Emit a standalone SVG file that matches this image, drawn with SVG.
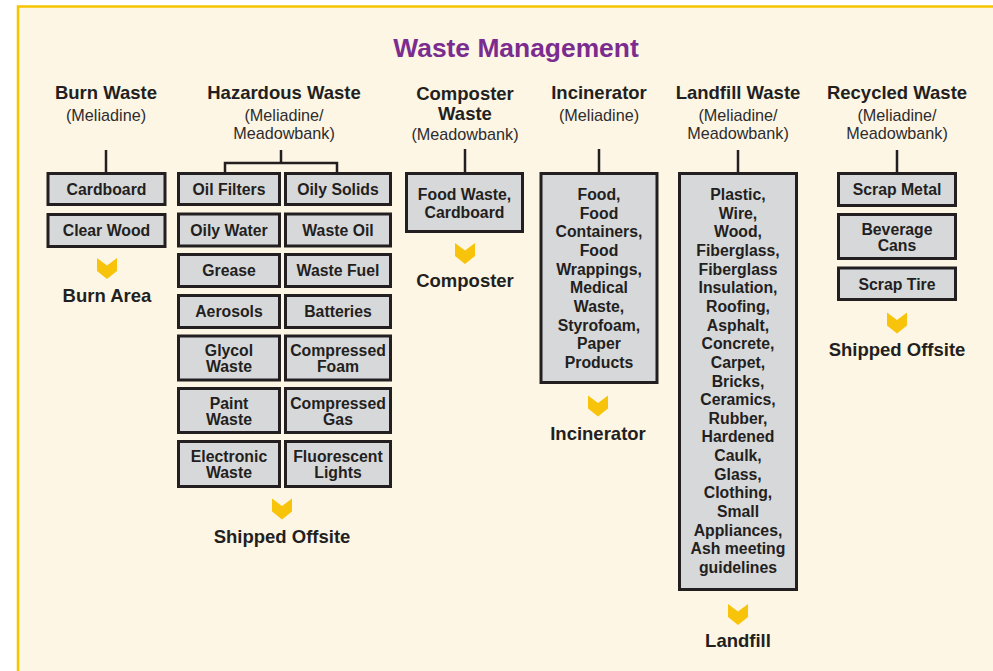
<svg xmlns="http://www.w3.org/2000/svg" width="993" height="671" viewBox="0 0 993 671">
<style>
text{font-family:"Liberation Sans",Arial,sans-serif;text-anchor:middle;fill:#231F20}
.t{font-size:26.4px;font-weight:bold;fill:#7B2C8F}
.h{font-size:18.5px;font-weight:bold}
.s{font-size:16.2px;fill:#2E2C2D}
.b{font-size:15.8px;font-weight:bold}
.box{fill:#D7D8DA;stroke:#231F20;stroke-width:3}
.ln{fill:none;stroke:#231F20;stroke-width:2.5}
.chev{fill:#F8C40B}
</style>
<defs>
<path id="chev" d="M-10,0 L0,7.5 L10,0 L10,13 L0,21 L-10,13 Z"/>
</defs>
<rect x="0" y="0" width="993" height="671" fill="#FFFFFF"/>
<rect x="18" y="6.5" width="1000" height="700" fill="#FDF6E5" stroke="#F7C500" stroke-width="2.5"/>
<text class="t" x="516" y="57">Waste Management</text>

<g id="connectors">
<line class="ln" x1="106" y1="150" x2="106" y2="173"/>
<line class="ln" x1="281" y1="150" x2="281" y2="163"/>
<polyline class="ln" points="225,173 225,163 337,163 337,173"/>
<line class="ln" x1="465" y1="149" x2="465" y2="173"/>
<line class="ln" x1="599" y1="149" x2="599" y2="173"/>
<line class="ln" x1="738" y1="150" x2="738" y2="173"/>
<line class="ln" x1="897" y1="150" x2="897" y2="173"/>
</g>

<g id="burn">
<text class="h" x="106" y="99">Burn Waste</text>
<text class="s" x="106" y="121">(Meliadine)</text>
<rect class="box" x="48" y="173.5" width="117" height="31"/>
<text class="b" x="106.5" y="194.5">Cardboard</text>
<rect class="box" x="48" y="214.5" width="117" height="32"/>
<text class="b" x="106.5" y="236">Clear Wood</text>
<use href="#chev" class="chev" x="107" y="258"/>
<text class="h" x="107" y="301.5">Burn Area</text>
</g>

<g id="hazardous">
<text class="h" x="284" y="99">Hazardous Waste</text>
<text class="s" x="284" y="121">(Meliadine/</text>
<text class="s" x="284" y="139">Meadowbank)</text>
<rect class="box" x="178.5" y="173.5" width="101" height="31"/>
<text class="b" x="229" y="194.5">Oil Filters</text>
<rect class="box" x="285.5" y="173.5" width="105" height="31"/>
<text class="b" x="338" y="194.5">Oily Solids</text>
<rect class="box" x="178.5" y="214" width="101" height="32"/>
<text class="b" x="229" y="235.5">Oily Water</text>
<rect class="box" x="285.5" y="214" width="105" height="32"/>
<text class="b" x="338" y="235.5">Waste Oil</text>
<rect class="box" x="178.5" y="254.5" width="101" height="32"/>
<text class="b" x="229" y="276">Grease</text>
<rect class="box" x="285.5" y="254.5" width="105" height="32"/>
<text class="b" x="338" y="276">Waste Fuel</text>
<rect class="box" x="178.5" y="295.5" width="101" height="32"/>
<text class="b" x="229" y="317">Aerosols</text>
<rect class="box" x="285.5" y="295.5" width="105" height="32"/>
<text class="b" x="338" y="317">Batteries</text>
<rect class="box" x="178.5" y="336" width="101" height="44"/>
<text class="b" x="229" y="356">Glycol</text>
<text class="b" x="229" y="372">Waste</text>
<rect class="box" x="285.5" y="336" width="105" height="44"/>
<text class="b" x="338" y="356">Compressed</text>
<text class="b" x="338" y="372">Foam</text>
<rect class="box" x="178.5" y="388.5" width="101" height="44"/>
<text class="b" x="229" y="408.5">Paint</text>
<text class="b" x="229" y="424.5">Waste</text>
<rect class="box" x="285.5" y="388.5" width="105" height="44"/>
<text class="b" x="338" y="408.5">Compressed</text>
<text class="b" x="338" y="424.5">Gas</text>
<rect class="box" x="178.5" y="441.5" width="101" height="45"/>
<text class="b" x="229" y="461.5">Electronic</text>
<text class="b" x="229" y="477.5">Waste</text>
<rect class="box" x="285.5" y="441.5" width="105" height="45"/>
<text class="b" x="338" y="461.5">Fluorescent</text>
<text class="b" x="338" y="477.5">Lights</text>
<use href="#chev" class="chev" x="282" y="498.5"/>
<text class="h" x="282" y="543">Shipped Offsite</text>
</g>

<g id="composter">
<text class="h" x="465" y="99.5">Composter</text>
<text class="h" x="465" y="120">Waste</text>
<text class="s" x="465" y="140">(Meadowbank)</text>
<rect class="box" x="406.5" y="173.5" width="116" height="58"/>
<text class="b" x="464.5" y="199.5">Food Waste,</text>
<text class="b" x="464.5" y="217.5">Cardboard</text>
<use href="#chev" class="chev" x="465" y="243"/>
<text class="h" x="465" y="287">Composter</text>
</g>

<g id="incinerator">
<text class="h" x="599" y="99">Incinerator</text>
<text class="s" x="599" y="121">(Meliadine)</text>
<rect class="box" x="541" y="173.5" width="116" height="209"/>
<text class="b" x="599" y="200">Food,</text>
<text class="b" x="599" y="218.6">Food</text>
<text class="b" x="599" y="237.3">Containers,</text>
<text class="b" x="599" y="256">Food</text>
<text class="b" x="599" y="274.6">Wrappings,</text>
<text class="b" x="599" y="293.3">Medical</text>
<text class="b" x="599" y="312">Waste,</text>
<text class="b" x="599" y="330.6">Styrofoam,</text>
<text class="b" x="599" y="349.3">Paper</text>
<text class="b" x="599" y="368">Products</text>
<use href="#chev" class="chev" x="598" y="395.5"/>
<text class="h" x="598" y="440">Incinerator</text>
</g>

<g id="landfill">
<text class="h" x="738" y="99">Landfill Waste</text>
<text class="s" x="738" y="121">(Meliadine/</text>
<text class="s" x="738" y="139">Meadowbank)</text>
<rect class="box" x="679.5" y="173.5" width="117" height="416"/>
<text class="b" x="738" y="200">Plastic,</text>
<text class="b" x="738" y="218.65">Wire,</text>
<text class="b" x="738" y="237.3">Wood,</text>
<text class="b" x="738" y="255.95">Fiberglass,</text>
<text class="b" x="738" y="274.6">Fiberglass</text>
<text class="b" x="738" y="293.25">Insulation,</text>
<text class="b" x="738" y="311.9">Roofing,</text>
<text class="b" x="738" y="330.55">Asphalt,</text>
<text class="b" x="738" y="349.2">Concrete,</text>
<text class="b" x="738" y="367.85">Carpet,</text>
<text class="b" x="738" y="386.5">Bricks,</text>
<text class="b" x="738" y="405.15">Ceramics,</text>
<text class="b" x="738" y="423.8">Rubber,</text>
<text class="b" x="738" y="442.45">Hardened</text>
<text class="b" x="738" y="461.1">Caulk,</text>
<text class="b" x="738" y="479.75">Glass,</text>
<text class="b" x="738" y="498.4">Clothing,</text>
<text class="b" x="738" y="517.05">Small</text>
<text class="b" x="738" y="535.7">Appliances,</text>
<text class="b" x="738" y="554.35">Ash meeting</text>
<text class="b" x="738" y="573">guidelines</text>
<use href="#chev" class="chev" x="738" y="604"/>
<text class="h" x="738" y="647">Landfill</text>
</g>

<g id="recycled">
<text class="h" x="897" y="99">Recycled Waste</text>
<text class="s" x="897" y="121">(Meliadine/</text>
<text class="s" x="897" y="139">Meadowbank)</text>
<rect class="box" x="838.5" y="173.5" width="117" height="32"/>
<text class="b" x="897" y="195">Scrap Metal</text>
<rect class="box" x="838.5" y="214.5" width="117" height="44"/>
<text class="b" x="897" y="234.5">Beverage</text>
<text class="b" x="897" y="250.5">Cans</text>
<rect class="box" x="838.5" y="268" width="117" height="31.5"/>
<text class="b" x="897" y="289.5">Scrap Tire</text>
<use href="#chev" class="chev" x="897" y="312.5"/>
<text class="h" x="897" y="356">Shipped Offsite</text>
</g>
</svg>
